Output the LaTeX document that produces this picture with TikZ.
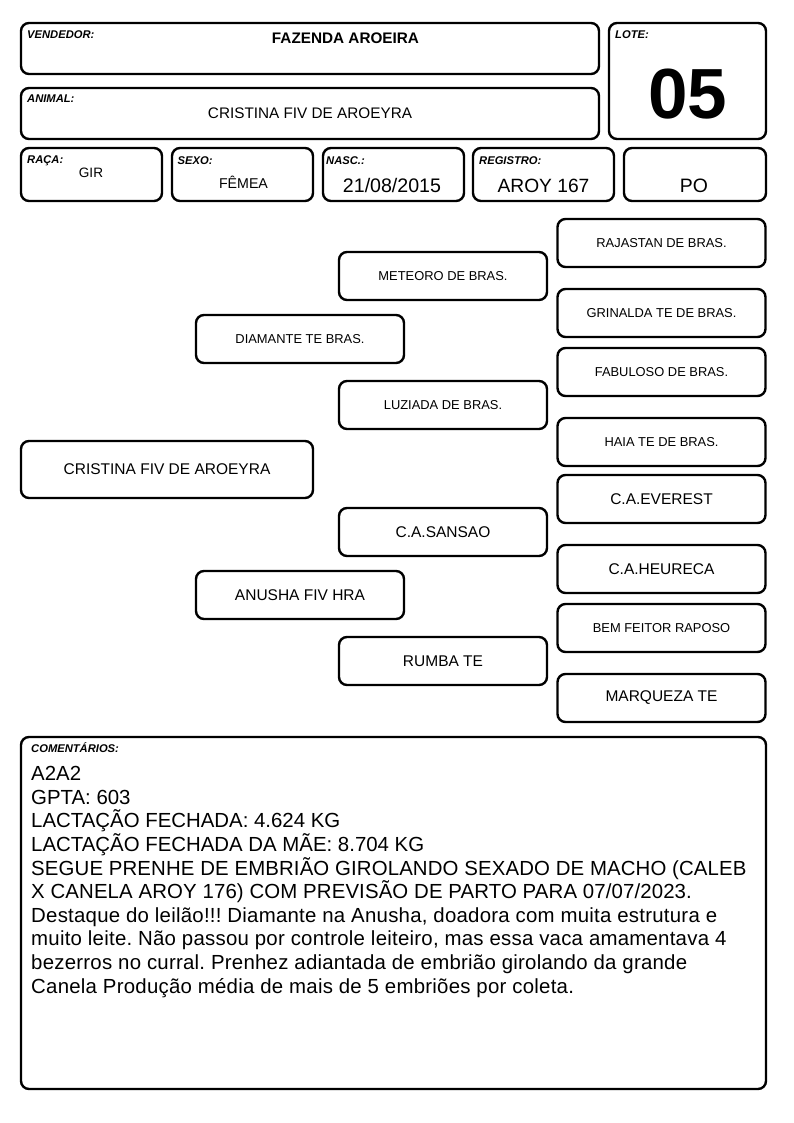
\documentclass[tikz,border=0pt]{standalone}
\usepackage{fontspec}
\setmainfont{Liberation Sans}
\frenchspacing
\begin{document}
\begin{tikzpicture}[x=1pt,y=-1pt,
 box/.style={draw=black, line width=2.4pt, rounded corners=8pt, inner sep=0pt},
 lbl/.style={anchor=base west, inner sep=0pt, font=\fontsize{11.2}{13}\selectfont\bfseries\itshape},
 val/.style={anchor=base, inner sep=0pt},
 pw/.style={box, minimum width=208pt, minimum height=48pt},
 smalltxt/.style={font=\fontsize{12.9}{15}\selectfont},
 bigtxt/.style={font=\fontsize{15.5}{18}\selectfont},
 cline/.style={anchor=base west, inner sep=0pt, font=\fontsize{20.4}{23.6}\selectfont},
 clinew/.style={cline, font=\fontsize{20.4}{23.6}\selectfont\addfontfeature{LetterSpace=1.2}},
 clinem/.style={cline, font=\fontsize{20.4}{23.6}\selectfont\addfontfeature{LetterSpace=0.6}}
]
\useasboundingbox (0,0) rectangle (794,1123);
% header boxes
\node[box, minimum width=578pt, minimum height=51pt] (vend) at (310,48.5) {};
\node[box, minimum width=157pt, minimum height=116pt] (lote) at (687.5,81) {};
\node[box, minimum width=578pt, minimum height=51pt] (animal) at (310,113.5) {};
\node[box, minimum width=141pt, minimum height=53pt] (raca) at (91.5,174.5) {};
\node[box, minimum width=141pt, minimum height=53pt] (sexo) at (242.5,174.5) {};
\node[box, minimum width=141pt, minimum height=53pt] (nasc) at (393.5,174.5) {};
\node[box, minimum width=141pt, minimum height=53pt] (reg) at (543.5,174.5) {};
\node[box, minimum width=142pt, minimum height=53pt] (po) at (695,174.5) {};
% labels
\node[lbl] (lvend) at (27,39) {VENDEDOR:};
\node[lbl] (llote) at (615,39) {LOTE:};
\node[lbl] (lanimal) at (27,103) {ANIMAL:};
\node[lbl] (lraca) at (27,163.5) {RAÇA:};
\node[lbl] (lsexo) at (177.5,165) {SEXO:};
\node[lbl] (lnasc) at (326,165) {NASC.:};
\node[lbl] (lreg) at (479,165) {REGISTRO:};
% values
\node[val, font=\fontsize{15.3}{18}\selectfont\bfseries] (tvend) at (345.5,43.3) {FAZENDA AROEIRA};
\node[val, font=\fontsize{71}{80}\selectfont\bfseries] (tlote) at (687.5,118.3) {05};
\node[val, font=\fontsize{15.3}{18}\selectfont] (tanimal) at (310,119) {CRISTINA FIV DE AROEYRA};
\node[val, font=\fontsize{13.6}{16}\selectfont] (traca) at (91,177.7) {GIR};
\node[val, font=\fontsize{14.2}{16}\selectfont] (tsexo) at (243.5,189) {FÊMEA};
\node[val, font=\fontsize{19.6}{22}\selectfont] (tnasc) at (392,192.7) {21/08/2015};
\node[val, font=\fontsize{19.2}{22}\selectfont] (treg) at (543.5,192.7) {AROY 167};
\node[val, font=\fontsize{19.4}{22}\selectfont] (tpo) at (694,192.7) {PO};
% pedigree
\node[box, minimum width=292pt, minimum height=57pt, bigtxt] (cristina) at (167,469.5) {CRISTINA FIV DE AROEYRA};
\node[pw, smalltxt] (diamante) at (300,339) {DIAMANTE TE BRAS.};
\node[pw, bigtxt] (anusha) at (300,595) {ANUSHA FIV HRA};
\node[pw, smalltxt] (meteoro) at (443,276) {METEORO DE BRAS.};
\node[pw, smalltxt] (luziada) at (443,405) {LUZIADA DE BRAS.};
\node[pw, bigtxt] (sansao) at (443,532) {C.A.SANSAO};
\node[pw, bigtxt] (rumba) at (443,661) {RUMBA TE};
\node[pw, smalltxt] (rajastan) at (661.5,243) {RAJASTAN DE BRAS.};
\node[pw, smalltxt] (grinalda) at (661.5,313) {GRINALDA TE DE BRAS.};
\node[pw, smalltxt] (fabuloso) at (661.5,372) {FABULOSO DE BRAS.};
\node[pw, smalltxt] (haia) at (661.5,442) {HAIA TE DE BRAS.};
\node[pw, bigtxt] (everest) at (661.5,499) {C.A.EVEREST};
\node[pw, bigtxt] (heureca) at (661.5,569) {C.A.HEURECA};
\node[pw, smalltxt] (bemfeitor) at (661.5,628) {BEM FEITOR RAPOSO};
\node[pw, bigtxt] (marqueza) at (661.5,698) {MARQUEZA TE};
% comments
\node[box, minimum width=745pt, minimum height=352pt] (coment) at (393.5,913) {};
\node[lbl] (lcoment) at (31,752.7) {COMENTÁRIOS:};
\node[cline] (c1) at (31,780.7) {A2A2};
\node[cline] (c2) at (31,804.3) {GPTA: 603};
\node[cline] (c3) at (31,827.9) {LACTAÇÃO FECHADA: 4.624 KG};
\node[cline] (c4) at (31,851.5) {LACTAÇÃO FECHADA DA MÃE: 8.704 KG};
\node[clinem] (c5) at (31,875.1) {SEGUE PRENHE DE EMBRIÃO GIROLANDO SEXADO DE MACHO (CALEB};
\node[clinem] (c6) at (31,898.7) {X CANELA AROY 176) COM PREVISÃO DE PARTO PARA 07/07/2023.};
\node[clinew] (c7) at (31,922.3) {Destaque do leilão!!! Diamante na Anusha, doadora com muita estrutura e};
\node[clinew] (c8) at (31,945.9) {muito leite. Não passou por controle leiteiro, mas essa vaca amamentava 4};
\node[clinew] (c9) at (31,969.5) {bezerros no curral. Prenhez adiantada de embrião girolando da grande};
\node[clinew] (c10) at (31,993.1) {Canela Produção média de mais de 5 embriões por coleta.};
\end{tikzpicture}
\end{document}
